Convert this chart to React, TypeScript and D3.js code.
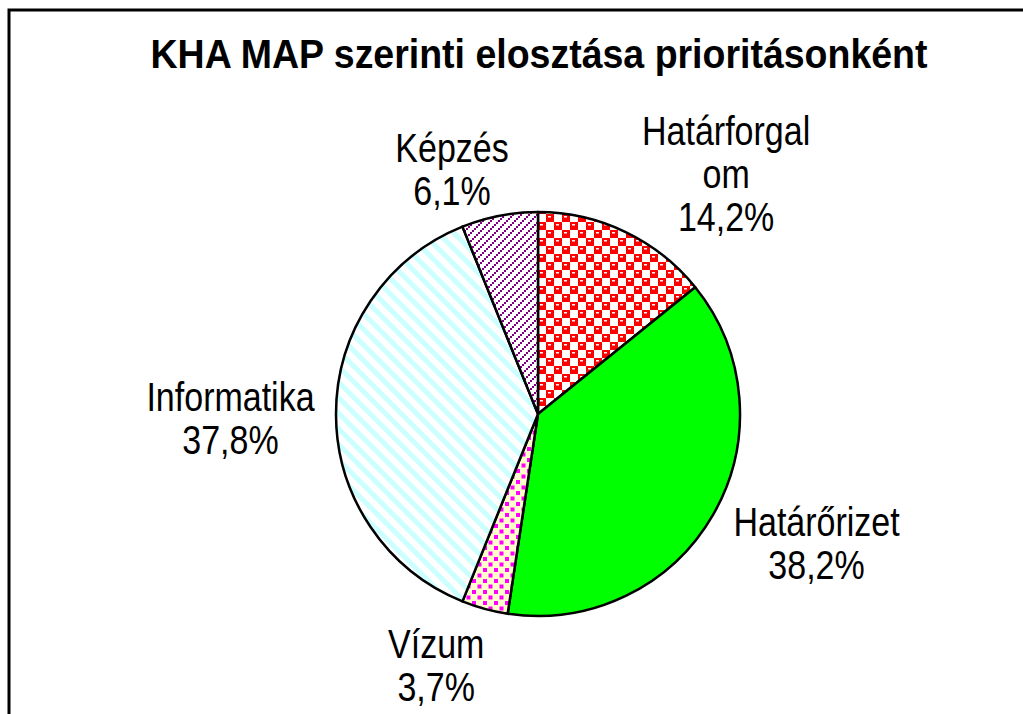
import React from "react";
import * as d3 from "d3";

// Chart data
const categories = ["Határforgalom", "Határőrizet", "Vízum", "Informatika", "Képzés"];
const shares = [14.2, 38.2, 3.7, 37.8, 6.1];
const labelLines = [["Határforgal", "om"], ["Határőrizet"], ["Vízum"], ["Informatika"], ["Képzés"]];
const title = "KHA MAP szerinti elosztása prioritásonként";

const W = 1023;
const H = 714;
const cx = 538;
const cy = 414;
const radius = 202;
const fontSize = 34;
const stretch = 1.2; // the original text is slightly tall and narrow
const lineH = 43;

const fills = ["url(#pCheck)", "#00FF00", "url(#pDots)", "url(#pStripe)", "url(#pHatch)"];
// hand tuned label nudges (labels were placed manually in the original)
const nudges: [number, number][] = [[52, 18], [5, -3], [-32, -5], [8, 4], [-34, 15]];

export default function App() {
  const pie = d3.pie<number>().sort(null).value(d => d);
  const arcs = pie(shares);
  const arc = d3.arc<d3.PieArcDatum<number>>().innerRadius(0).outerRadius(radius);
  const fmt = (v: number) => v.toFixed(1).replace(".", ",") + "%";

  return (
    <div style={{ position: "fixed", left: 0, top: 0 }}>
      <svg width={W} height={H} style={{ display: "block", background: "#fff" }}>
        <defs>
          <pattern id="pCheck" width={16} height={16} patternUnits="userSpaceOnUse">
            <rect width={16} height={16} fill="#fff" />
            <rect x={0} y={0} width={8} height={8} fill="#FF0000" />
            <rect x={8} y={8} width={8} height={8} fill="#FF0000" />
            <rect x={2} y={2} width={3} height={1.5} fill="#fff" />
            <rect x={10} y={10} width={3} height={1.5} fill="#fff" />
          </pattern>
          <pattern id="pDots" width={11} height={11} patternUnits="userSpaceOnUse">
            <rect width={11} height={11} fill="#FFFFCC" />
            <rect x={0} y={0} width={4} height={4} fill="#FF00FF" />
            <rect x={5.5} y={5.5} width={4} height={4} fill="#FF00FF" />
          </pattern>
          <pattern id="pStripe" width={11} height={11} patternUnits="userSpaceOnUse" patternTransform="rotate(-45)">
            <rect width={11} height={11} fill="#fff" />
            <rect x={0} y={0} width={5} height={11} fill="#CCFFFF" />
          </pattern>
          <pattern id="pHatch" width={8} height={8} patternUnits="userSpaceOnUse">
            <rect width={8} height={8} fill="#fff" />
            <rect x={0} y={6} width={2} height={2} fill="#800080" />
            <rect x={2} y={4} width={2} height={2} fill="#800080" />
            <rect x={4} y={2} width={2} height={2} fill="#800080" />
            <rect x={6} y={0} width={2} height={2} fill="#800080" />
          </pattern>
        </defs>

        {/* chart area frame, runs off the right and bottom edges */}
        <rect x={9} y={10} width={W + 20} height={H + 20} fill="none" stroke="#000" strokeWidth={3} />

        <text transform={`translate(539,68) scale(1,1.08)`} textAnchor="middle"
          fontFamily="Liberation Sans, Arial, sans-serif" fontWeight="bold" fontSize={37.5} fill="#000">{title}</text>

        <g transform={`translate(${cx},${cy})`}>
          {arcs.map((a, i) => (
            <path key={categories[i]} d={arc(a) || ""} fill={fills[i]} stroke="#000" strokeWidth={2.5}
              strokeLinejoin="round" />
          ))}
        </g>

        {arcs.map((a, i) => {
          const ang = (a.startAngle + a.endAngle) / 2;
          const lines = [...labelLines[i], fmt(shares[i])];
          const w = d3.max(lines, l => l.length * fontSize * 0.5) || 0;
          const h = lines.length * lineH;
          const r = radius + 20;
          const x = cx + Math.sin(ang) * r + Math.sin(ang) * w / 2 + nudges[i][0];
          const yc = cy - Math.cos(ang) * r - Math.cos(ang) * h / 2 + nudges[i][1];
          const y0 = yc - h / 2 + lineH / 2 + fontSize * 0.36 * stretch;
          return (
            <g key={categories[i]}>
              {lines.map((l, j) => (
                <text key={j} transform={`translate(${x},${y0 + j * lineH}) scale(1,${stretch})`}
                  textAnchor="middle" fontFamily="Liberation Sans, Arial, sans-serif"
                  fontSize={fontSize} fill="#000">{l}</text>
              ))}
            </g>
          );
        })}
      </svg>
    </div>
  );
}
